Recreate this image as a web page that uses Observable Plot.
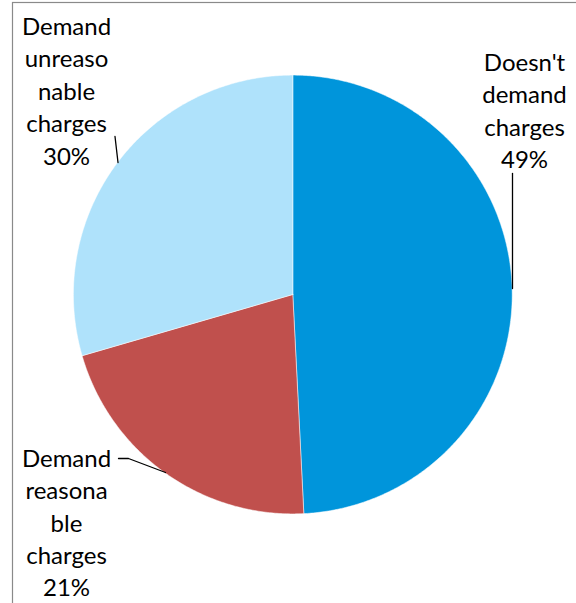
<!DOCTYPE html>
<html>
<head>
<meta charset="utf-8">
<script src="https://cdn.jsdelivr.net/npm/d3@7"></script>
<script src="https://cdn.jsdelivr.net/npm/@observablehq/plot@0.6"></script>
<style>
  html, body { margin: 0; padding: 0; background: white; overflow: hidden; }
  #chart { width: 576px; height: 603px; }
</style>
</head>
<body>
<div id="chart"></div>
<script>
// ---- data ----
const categories = ["Doesn't demand charges", "Demand reasonable charges", "Demand unreasonable charges"];
const values = [49.2, 21.3, 29.5];
const labelTexts = ["Doesn't\ndemand\ncharges\n49%", "Demand\nreasona\nble\ncharges\n21%", "Demand\nunreaso\nnable\ncharges\n30%"];
const colors = ["#0095DB", "#C0504D", "#AFE2FB"];

// ---- layout (pixel space of the 576x603 svg) ----
const W = 576, H = 603;
const cx = 292.3, cy = 294, R = 219.4;
const labelPos = [[524, 108.8], [66, 520.6], [66, 89]];
const leaders = [
  [[512, 173], [512, 288]],
  [[118, 458], [128, 458], [165, 472]],
  [[114.5, 136], [117.5, 162]]
];

// ---- slices built from values ----
const arcs = d3.pie().sort(null).value(d => d)(values);
const slicePts = [];
arcs.forEach((a, i) => {
  const name = categories[i];
  slicePts.push({name, x: cx, y: cy});
  const n = Math.max(2, Math.ceil((a.endAngle - a.startAngle) / (Math.PI / 360)));
  for (let k = 0; k <= n; k++) {
    const t = a.startAngle + (a.endAngle - a.startAngle) * k / n;
    slicePts.push({name, x: cx + R * Math.sin(t), y: cy - R * Math.cos(t)});
  }
  slicePts.push({name, x: cx, y: cy});
});

const labels = categories.map((c, i) => ({name: c, text: labelTexts[i], x: labelPos[i][0], y: labelPos[i][1]}));
const leaderPts = leaders.flatMap((pts, i) => pts.map(([x, y]) => ({id: i, x, y})));

const chart = Plot.plot({
  width: W,
  height: H,
  margin: 0,
  x: {domain: [0, W], range: [0, W], axis: null},
  y: {domain: [0, H], range: [0, H], axis: null},
  color: {domain: categories, range: colors},
  style: {fontFamily: "Lato, 'Open Sans', sans-serif", background: "white"},
  marks: [
    Plot.rect([{}], {x1: 12.5, x2: 600, y1: 2.5, y2: 640, fill: "none", stroke: "#8a8a8a", strokeWidth: 1.2}),
    Plot.line(slicePts, {x: "x", y: "y", z: "name", fill: "name", stroke: "white", strokeWidth: 0.5, curve: "linear"}),
    Plot.line(leaderPts, {x: "x", y: "y", z: "id", stroke: "black", strokeWidth: 1.3}),
    Plot.text(labels, {x: "x", y: "y", text: "text", fill: "black", fontSize: 24, lineHeight: 1.354, textAnchor: "middle", lineAnchor: "middle"})
  ]
});
document.getElementById("chart").appendChild(chart);
</script>
</body>
</html>
